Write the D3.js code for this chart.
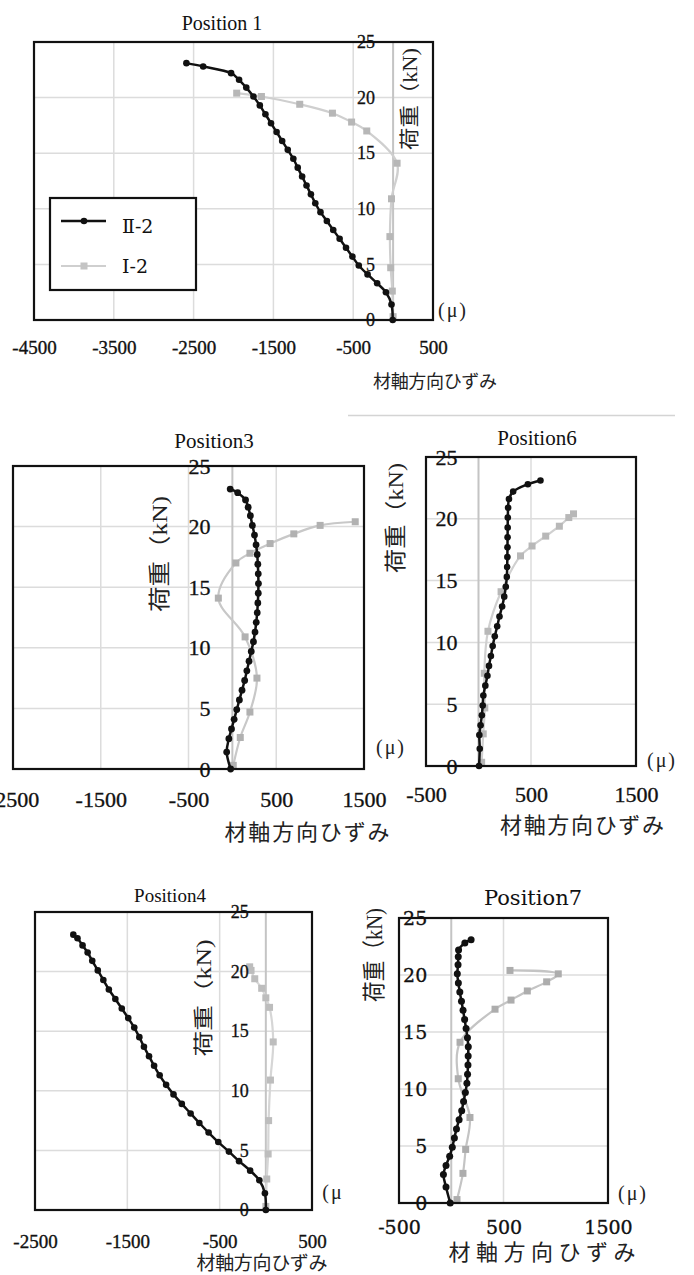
<!DOCTYPE html>
<html>
<head>
<meta charset="utf-8">
<script src="https://cdn.jsdelivr.net/npm/d3@7"></script>
<style>
  body { margin: 0; background: #fff; }
  svg { display: block; }
</style>
</head>
<body>
<svg id="chart" width="694" height="1275"></svg>
<script>
// load steps (kN) of each specimen
const loadII = [0, 1.4, 2.5, 3.3, 4.1, 4.9, 5.7, 6.5, 7.3, 8.1, 8.9, 9.7, 10.5, 11.3, 12.1,
  12.9, 13.7, 14.5, 15.3, 16.1, 16.9, 17.7, 18.5, 19.3, 20.1, 20.9, 21.6, 22.2, 22.8, 23.1];
const loadI = [0.3, 2.6, 4.7, 7.5, 10.9, 14.1, 17.0, 17.8, 18.6, 19.4, 20.1, 20.4];

// strain (μ) per position
const pos1II = [-5, -20, -90, -200, -320, -430, -510, -590, -670, -750, -830, -910, -975, -1030, -1085,
  -1140, -1195, -1250, -1320, -1390, -1460, -1530, -1600, -1670, -1750, -1840, -1930, -2030, -2380, -2590];
const pos1I = [0, -10, -30, -40, -20, 50, -330, -520, -760, -1170, -1650, -1960];

const pos3II = [-20, -65, -40, -10, 20, 50, 80, 110, 140, 165, 190, 215, 240, 258, 272,
  283, 290, 295, 297, 295, 290, 283, 270, 252, 228, 205, 180, 150, 60, -25];
const pos3I = [10, 90, 200, 280, 145, -160, 40, 200, 430, 700, 1000, 1400];

const pos6II = [5, 12, 8, 20, 32, 40, 46, 65, 85, 100, 118, 135, 155, 178, 200,
  225, 245, 260, 270, 273, 275, 276, 277, 278, 279, 282, 290, 330, 470, 590];
const pos6I = [30, 45, 60, 55, 90, 215, 400, 510, 640, 770, 860, 905];

const pos4II = [0, -10, -70, -170, -290, -400, -515, -620, -720, -815, -910, -1000, -1080, -1150, -1210,
  -1265, -1320, -1370, -1425, -1490, -1560, -1630, -1700, -1760, -1820, -1880, -1930, -1985, -2040, -2085];
const pos4I = [0, 10, 25, 30, 50, 80, 40, 0, -45, -120, -160, -175];

const pos7II = [-10, -50, -75, -50, -15, 10, 30, 50, 75, 100, 118, 135, 150, 156, 160,
  162, 163, 155, 142, 128, 113, 98, 82, 68, 58, 65, 67, 70, 130, 190];
const pos7I = [55, 112, 138, 179, 67, 84, 419, 572, 728, 913, 1024, 562];

const seriesNames = ["Ⅱ-2", "Ⅰ-2"];
const titles = ["Position 1", "Position3", "Position6", "Position4", "Position7"];
const yTicks = [0, 5, 10, 15, 20, 25];
const xTicks1 = [-4500, -3500, -2500, -1500, -500, 500];
const xTicks3 = [-2500, -1500, -500, 500, 1500];
const xTicks6 = [-500, 500, 1500];
const xTicks4 = [-2500, -1500, -500, 500];
const xTicks7 = [-500, 500, 1500];
const xLabel = "材軸方向ひずみ";
const yLabel = "荷重（kN)";
const unitLabel = "(μ)";

const serif = "'Liberation Serif', 'Noto Sans CJK JP', serif";
const wideSerif = "'DejaVu Serif', 'Noto Sans CJK JP', serif";

const panels = [
  { title: titles[0], II: pos1II, I: pos1I, ticks: xTicks1,
    x0: 34, x1: 433, y0: 42, y1: 320, tx: 222, ty: 23, tfs: 20,
    fs: 19, tickY: 348, yfs: 18, gap: 18, mu: [453, 310], unit: unitLabel,
    yl: [409, 99, 102], xl: [435, 381, 124], xfs: 18, ylfs: 20, font: serif, gray: "#cfcfcf", r: 3.3 },
  { title: titles[1], II: pos3II, I: pos3I, ticks: xTicks3,
    x0: 13, x1: 364, y0: 466, y1: 769, tx: 214, ty: 441, tfs: 21,
    fs: 22, tickY: 800, yfs: 22, gap: 22, mu: [391, 747], unit: unitLabel,
    yl: [159, 554, 116], xl: [307, 832, 165], xfs: 22, ylfs: 22, font: serif, gray: "#c8c8c8", r: 3.4 },
  { title: titles[2], II: pos6II, I: pos6I, ticks: xTicks6,
    x0: 426, x1: 636, y0: 457, y1: 766, tx: 537, ty: 438, tfs: 21,
    fs: 22, tickY: 795, yfs: 22, gap: 21, mu: [662, 760], unit: unitLabel,
    yl: [395, 518, 110], xl: [582, 825, 164], xfs: 22, ylfs: 22, font: serif, gray: "#d0d0d0", r: 3.3 },
  { title: titles[3], II: pos4II, I: pos4I, ticks: xTicks4,
    x0: 35, x1: 312, y0: 912, y1: 1210, tx: 170, ty: 895, tfs: 19,
    fs: 19, tickY: 1242, yfs: 18, gap: 17, mu: [333, 1192], unit: "(μ",
    yl: [203, 998, 117], xl: [262, 1263, 131], xfs: 19, ylfs: 20, font: serif, gray: "#d6d6d6", r: 3.3 },
  { title: titles[4], II: pos7II, I: pos7I, ticks: xTicks7,
    x0: 399, x1: 608, y0: 918, y1: 1203, tx: 533, ty: 898, tfs: 21,
    fs: 19, tickY: 1228, yfs: 19, gap: 24, mu: [633, 1193], unit: unitLabel,
    yl: [373, 955, 94], xl: [542, 1252, 187], xfs: 22, ylfs: 23, font: wideSerif, gray: "#c4c4c4", r: 3.5 }
];

const svg = d3.select("#chart");

// faint separator line between the top-right images
svg.append("line")
  .attr("x1", 348).attr("x2", 675).attr("y1", 415.5).attr("y2", 415.5)
  .attr("stroke", "#d4d4d4").attr("stroke-width", 1.5);

function drawPanel(p) {
  const g = svg.append("g");
  const x = d3.scaleLinear().domain([p.ticks[0], p.ticks[p.ticks.length - 1]]).range([p.x0, p.x1]);
  const y = d3.scaleLinear().domain([0, 25]).range([p.y1, p.y0]);

  // gridlines
  g.append("g").selectAll("line")
    .data(yTicks.slice(1, -1))
    .enter().append("line")
    .attr("x1", p.x0).attr("x2", p.x1)
    .attr("y1", d => y(d)).attr("y2", d => y(d))
    .attr("stroke", "#dcdcdc").attr("stroke-width", 1.5);
  g.append("g").selectAll("line")
    .data(p.ticks.slice(1, -1))
    .enter().append("line")
    .attr("x1", d => x(d)).attr("x2", d => x(d))
    .attr("y1", p.y0).attr("y2", p.y1)
    .attr("stroke", "#dcdcdc").attr("stroke-width", 1.5);
  // zero axis
  g.append("line")
    .attr("x1", x(0)).attr("x2", x(0)).attr("y1", p.y0).attr("y2", p.y1)
    .attr("stroke", "#c4c4c4").attr("stroke-width", 2);

  const line = d3.line().curve(d3.curveCatmullRom.alpha(0.5))
    .x(d => x(d[0])).y(d => y(d[1]));

  // Ⅰ-2 (grey, squares)
  const ptsI = p.I.map((v, i) => [v, loadI[i]]);
  g.append("path").datum(ptsI)
    .attr("d", line).attr("fill", "none")
    .attr("stroke", p.gray).attr("stroke-width", 2.2);
  g.append("g").selectAll("rect")
    .data(ptsI).enter().append("rect")
    .attr("x", d => x(d[0]) - 3.5).attr("y", d => y(d[1]) - 3.5)
    .attr("width", 7).attr("height", 7)
    .attr("fill", d3.color(p.gray).darker(0.35));

  // Ⅱ-2 (black, dots)
  const ptsII = p.II.map((v, i) => [v, loadII[i]]);
  g.append("path").datum(ptsII)
    .attr("d", line).attr("fill", "none")
    .attr("stroke", "#111").attr("stroke-width", 2.5);
  g.append("g").selectAll("circle")
    .data(ptsII).enter().append("circle")
    .attr("cx", d => x(d[0])).attr("cy", d => y(d[1]))
    .attr("r", p.r).attr("fill", "#111");

  // frame
  g.append("rect")
    .attr("x", p.x0).attr("y", p.y0)
    .attr("width", p.x1 - p.x0).attr("height", p.y1 - p.y0)
    .attr("fill", "none").attr("stroke", "#111").attr("stroke-width", 2.2);

  // x tick labels
  const xAxis = d3.axisBottom(x).tickValues(p.ticks).tickSize(0).tickPadding(0)
    .tickFormat(d => String(d));
  const gx = g.append("g")
    .attr("transform", "translate(0," + (p.tickY - p.fs * 0.38) + ")")
    .call(xAxis);
  gx.select(".domain").remove();
  gx.selectAll("text").attr("font-family", p.font).attr("font-size", p.fs)
    .attr("fill", "#111").attr("stroke", "#111").attr("stroke-width", 0.35);

  // y tick labels next to the zero axis
  const yAxis = d3.axisLeft(y).tickValues(yTicks).tickSize(0).tickPadding(0);
  const gy = g.append("g")
    .attr("transform", "translate(" + (x(0) - p.gap) + ",0)")
    .call(yAxis);
  gy.select(".domain").remove();
  gy.selectAll("text").attr("font-family", p.font).attr("font-size", p.yfs)
    .attr("fill", "#111").attr("stroke", "#111").attr("stroke-width", 0.3);

  // title
  g.append("text")
    .attr("x", p.tx).attr("y", p.ty).attr("dy", "0.35em")
    .attr("text-anchor", "middle")
    .attr("font-family", p.font).attr("font-size", p.tfs).attr("fill", "#111")
    .text(p.title);

  // unit
  g.append("text")
    .attr("x", p.mu[0]).attr("y", p.mu[1]).attr("dy", "0.35em")
    .attr("text-anchor", "middle")
    .attr("font-family", serif).attr("font-size", 20).attr("fill", "#222")
    .style("letter-spacing", "2px")
    .text(p.unit);

  // axis titles
  g.append("text")
    .attr("x", p.xl[0] - p.xl[2] / 2).attr("y", p.xl[1]).attr("dy", "0.38em")
    .attr("textLength", p.xl[2]).attr("lengthAdjust", "spacing")
    .attr("font-family", serif).attr("font-size", p.xfs).attr("fill", "#222")
    .text(xLabel);
  g.append("text")
    .attr("transform", "translate(" + p.yl[0] + "," + p.yl[1] + ") rotate(-90)")
    .attr("x", -p.yl[2] / 2).attr("dy", "0.38em")
    .attr("textLength", p.yl[2]).attr("lengthAdjust", "spacingAndGlyphs")
    .attr("font-family", serif).attr("font-size", p.ylfs).attr("fill", "#222")
    .text(yLabel);
}

panels.forEach(drawPanel);

// legend in Position 1
const legend = svg.append("g").attr("id", "legend");
legend.append("rect")
  .attr("x", 50).attr("y", 198).attr("width", 146).attr("height", 92)
  .attr("fill", "#fff").attr("stroke", "#111").attr("stroke-width", 2.2);
const legendItems = legend.selectAll(".legend-item")
  .data(seriesNames).enter().append("g")
  .attr("class", "legend-item")
  .attr("transform", (d, i) => "translate(0," + (221 + i * 45) + ")");
legendItems.append("line")
  .attr("x1", 61).attr("x2", 106).attr("y1", 0).attr("y2", 0)
  .attr("stroke", (d, i) => i === 0 ? "#111" : "#cfcfcf").attr("stroke-width", (d, i) => i === 0 ? 2.5 : 2.2);
legendItems.append("circle")
  .attr("cx", 84).attr("cy", 0).attr("r", (d, i) => i === 0 ? 3.3 : 0).attr("fill", "#111");
legendItems.append("rect")
  .attr("x", 80.5).attr("y", -3.5).attr("width", (d, i) => i === 1 ? 7 : 0).attr("height", 7)
  .attr("fill", "#c4c4c4");
legendItems.append("text")
  .attr("x", 122).attr("y", (d, i) => i === 0 ? 5 : 0).attr("dy", "0.35em")
  .attr("font-family", "'DejaVu Serif', 'Noto Sans CJK JP', serif").attr("font-size", 19).attr("fill", "#111")
  .text(d => d);
</script>
</body>
</html>
